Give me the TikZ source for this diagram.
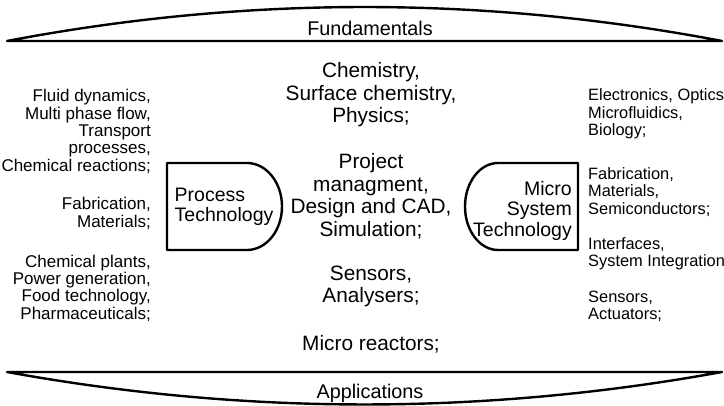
\documentclass[tikz,border=0pt]{standalone}
\usepackage{fontspec}
\setmainfont{Liberation Sans}
\begin{document}
\begin{tikzpicture}[x=1pt,y=1pt,
  banner/.style={draw, line width=2.4pt, line join=round},
  techbox/.style={draw, line width=2.4pt, line join=round},
  bannertext/.style={inner sep=0pt, font=\fontsize{19.8}{21}\selectfont},
  boxtext/.style={inner sep=0pt, font=\fontsize{19.5}{20.5}\selectfont},
  lefttext/.style={inner sep=0pt, anchor=east, align=right, font=\fontsize{17}{17.3}\selectfont},
  righttext/.style={inner sep=0pt, anchor=west, align=left, font=\fontsize{16.4}{17.3}\selectfont},
  midtext/.style={inner sep=0pt, align=center, font=\fontsize{20.8}{22.6}\selectfont}]
\useasboundingbox (0,0) rectangle (724,406);
% banners
\draw[banner] (7,365) .. controls (245.3,410.3) and (483.7,410.3) .. (722,365) -- cycle;
\draw[banner] (7,34) .. controls (245.3,-9.3) and (483.7,-9.3) .. (722,34) -- cycle;
\node[bannertext] (fund) at (370,378) {Fundamentals};
\node[bannertext] (appl) at (370,13) {Applications};
% technology boxes
\draw[techbox] (167,243) -- (247,243) arc[start angle=90,end angle=-90,x radius=35,y radius=43.5] -- (167,156) -- cycle;
\draw[techbox] (578,243) -- (498,243) arc[start angle=90,end angle=270,x radius=33,y radius=43.5] -- (578,156) -- cycle;
\node[boxtext, anchor=west, align=left] (pt) at (174.5,199) {Process\\Technology};
\node[boxtext, anchor=east, align=right] (mst) at (572,195.5) {Micro\\System\\Technology};
% left column
\node[lefttext] (l1) at (151,274.5) {Fluid dynamics,\\Multi phase flow,\\Transport\\processes,\\Chemical reactions;};
\node[lefttext] (l2) at (151,192.5) {Fabrication,\\Materials;};
\node[lefttext] (l3) at (151,118) {Chemical plants,\\Power generation,\\Food technology,\\Pharmaceuticals;};
% right column
\node[righttext] (r1) at (588,292) {Electronics, Optics\\Microfluidics,\\Biology;};
\node[righttext] (r2) at (588,214) {Fabrication,\\Materials,\\Semiconductors;};
\node[righttext] (r3) at (588,152.5) {Interfaces,\\System Integration};
\node[righttext] (r4) at (588,99.5) {Sensors,\\Actuators;};
% middle column
\node[midtext] (m1) at (371,311.3) {Chemistry,\\Surface chemistry,\\Physics;};
\node[midtext] (m2) at (371,209.5) {Project\\managment,\\Design and CAD,\\Simulation;};
\node[midtext] (m3) at (371,119.5) {Sensors,\\Analysers;};
\node[midtext] (m4) at (371,62) {Micro reactors;};
\end{tikzpicture}
\end{document}
